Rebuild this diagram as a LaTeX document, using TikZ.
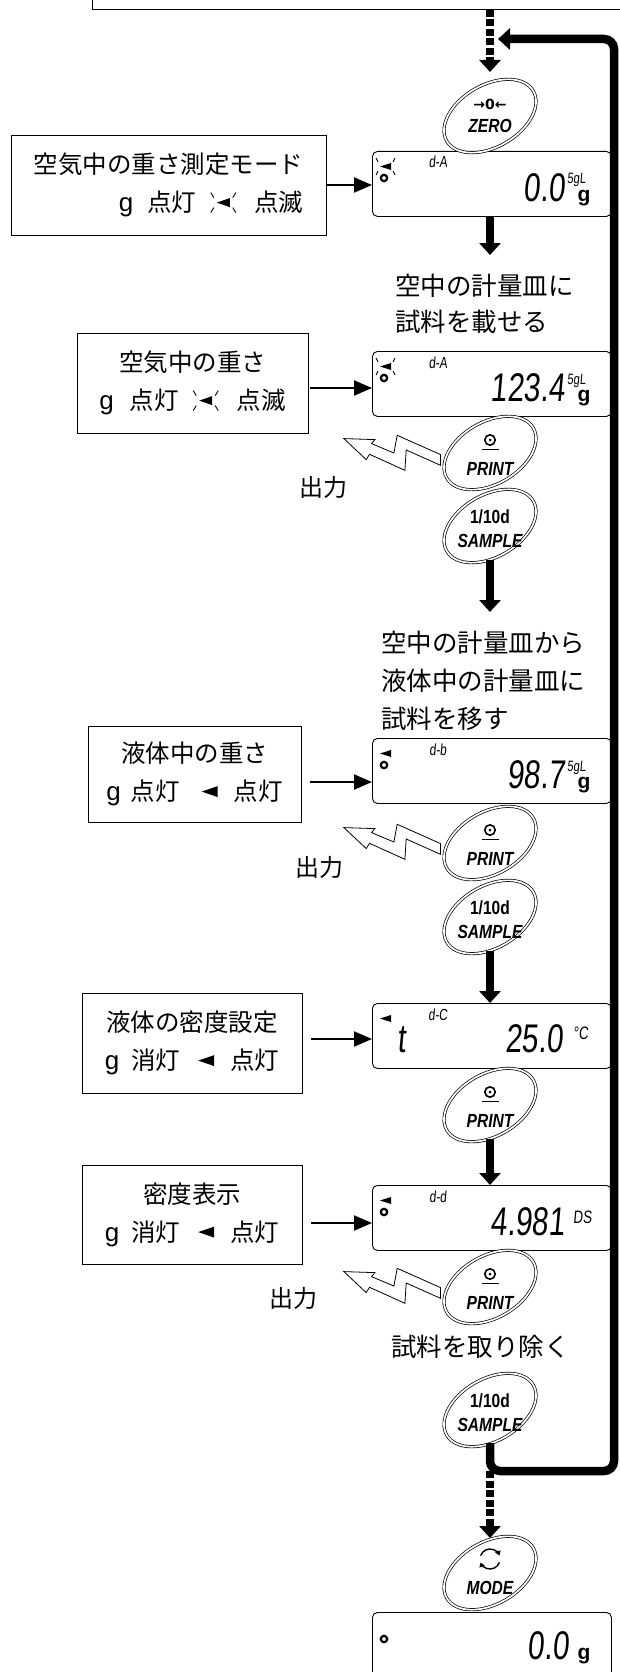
\documentclass[tikz,border=0pt]{standalone}
\usepackage{fontspec}
\usetikzlibrary{arrows.meta,shapes.geometric,calc}
\setmainfont{Noto Sans CJK JP}
\newfontfamily\gfont{Liberation Sans}
\newfontfamily\btnfont[FakeStretch=0.82]{Liberation Sans}
\newfontfamily\lcdfont[FakeStretch=0.74,FakeSlant=0.09]{Liberation Sans}
\newfontfamily\symfont{DejaVu Sans}
\newcommand{\blinktri}{\tikz[baseline={(0pt,-9pt)},x=1pt,y=1pt]{%
  \fill (-6.5,0) -- (6.5,4.5) -- (6.5,-4.5) -- cycle;
  \draw[line width=0.9pt] (-9.5,5) -- (-12.5,10) (-9.5,-5) -- (-12.5,-10)
    (9.5,5) -- (12.5,10) (9.5,-5) -- (12.5,-10);}}
\newcommand{\soltri}{\tikz[baseline={(0pt,-9pt)},x=1pt,y=1pt]{%
  \fill (-8,0) -- (8,5.5) -- (8,-5.5) -- cycle;}}
\newcommand{\gch}{{\gfont\fontsize{26}{26}\selectfont g}}
\tikzset{
  pics/bolt/.style={code={%
    \draw[line width=0.8pt,fill=white,line join=miter]
      (-96.6,-21.4) -- (-65.6,-20.4) -- (-69,-16.4) -- (-46.6,-7) -- (-43.3,-24.7)
      -- (0,-5.4) -- (0,5.3) -- (-34.3,-10) -- (-35.6,10.3) -- (-71,-5.7)
      -- (-74.3,-0.4) -- cycle;}},
  pics/printicon/.style={code={%
    \draw[line width=1.6pt] (0,-13) circle[radius=5.2];
    \fill (0,-13) circle[radius=1.5];
    \draw[line width=1.6pt] (-8.5,-3.5) -- (8.5,-3.5);}},
  pics/modeicon/.style={code={%
    \draw[line width=1.4pt,-{Triangle[length=4.5pt,width=5.5pt]}]
      (0,-14) ++(-160:10) arc[start angle=-160,end angle=-20,radius=10];
    \draw[line width=1.4pt,-{Triangle[length=4.5pt,width=5.5pt]}]
      (0,-14) ++(20:10) arc[start angle=20,end angle=160,radius=10];}},
  pics/lcdtri/.style={code={\fill (8,15.5) -- (19,12) -- (19,19) -- cycle;}},
  pics/lcdrays/.style={code={\draw[line width=0.9pt] (6,11) -- (4,7) (6,20) -- (4,24) (21,11) -- (23,7) (21,20) -- (23,24);}},
  pics/lcdring/.style={code={\draw[line width=2.2pt] (12,27) circle[radius=3.2];}},
}
\begin{document}
\begin{tikzpicture}[x=1pt,y=-1pt,
  jbox/.style={draw,line width=0.9pt,inner sep=0pt,align=center,font=\fontsize{24.5}{38}\selectfont},
  lcdbox/.style={draw,line width=0.9pt,rounded corners=5pt,minimum width=239pt,minimum height=65pt,anchor=north west,inner sep=0pt},
  btnshape/.style={ellipse,draw,double,double distance=1.7pt,line width=0.7pt,minimum width=100pt,minimum height=62pt,inner sep=0pt,rotate=30},
  btnlbl/.style={font=\btnfont\bfseries\itshape\fontsize{19}{19}\selectfont,inner sep=0pt,anchor=base},
  btnnum/.style={font=\btnfont\bfseries\fontsize{19}{19}\selectfont,inner sep=0pt,anchor=base},
  btnsym/.style={font=\symfont\bfseries\fontsize{14}{14}\selectfont,inner sep=0pt,anchor=base},
  tarrow/.style={line width=8.5pt,-{Triangle[length=12pt,width=21pt]}},
  darrow/.style={tarrow,dash pattern=on 7pt off 2.5pt},
  harrow/.style={line width=2pt,-{Triangle[length=18pt,width=15pt]}},
  notetxt/.style={font=\fontsize{25.5}{25.5}\selectfont,inner sep=0pt,anchor=west},
  outtxt/.style={font=\fontsize{24}{24}\selectfont,inner sep=0pt},
  lcdnum/.style={font=\lcdfont\fontsize{40}{40}\selectfont,inner sep=0pt,anchor=base east},
  lcdsm/.style={font=\lcdfont\fontsize{16}{16}\selectfont,inner sep=0pt,anchor=base},
  lcdunit/.style={font=\lcdfont\fontsize{15}{15}\selectfont,inner sep=0pt,anchor=base west},
  lcdunitb/.style={font=\lcdfont\fontsize{18}{18}\selectfont,inner sep=0pt,anchor=base west},
  lcdg/.style={font=\gfont\bfseries\fontsize{21}{21}\selectfont,inner sep=0pt,anchor=base},
]
\useasboundingbox (0,0) rectangle (620,1672);

% helper coordinates
\coordinate (colx) at (490,0);
\coordinate (r1) at (0,185);
\coordinate (r2) at (0,388);
\coordinate (r3) at (0,782);
\coordinate (r4) at (0,1039);
\coordinate (r5) at (0,1223);
\coordinate (a2end) at (490,255);
\coordinate (a3end) at (490,612);
\coordinate (loopbl) at (490,1471);
\coordinate (loopbr) at (614,1471);
\coordinate (looptr) at (614,39);
\coordinate (loopend) at (498,39);

% top box (cut off)
\node[draw,line width=0.9pt,minimum width=620pt,minimum height=60pt,anchor=south west,inner sep=0pt] (topbox) at (92,10) {};

% left boxes
\node[jbox,minimum width=315pt,minimum height=100pt,align=right] (b1) at (168.5,185)
  {空気中の重さ測定モード\\\gch\hspace{14pt}点灯\hspace{14pt}\blinktri\hspace{18pt}点滅};
\node[jbox,minimum width=231pt,minimum height=100pt] (b2) at (192.5,383)
  {空気中の重さ\\\gch\hspace{16pt}点灯\hspace{14pt}\blinktri\hspace{18pt}点滅};
\node[jbox,minimum width=213pt,minimum height=96pt] (b3) at (194.5,774)
  {液体中の重さ\\\gch\hspace{10pt}点灯\hspace{22pt}\soltri\hspace{16pt}点灯};
\node[jbox,minimum width=220pt,minimum height=100pt] (b4) at (192,1043)
  {液体の密度設定\\\gch\hspace{12pt}消灯\hspace{18pt}\soltri\hspace{16pt}点灯};
\node[jbox,minimum width=220pt,minimum height=99pt] (b5) at (192,1214.5)
  {密度表示\\\gch\hspace{12pt}消灯\hspace{18pt}\soltri\hspace{16pt}点灯};

% displays
\node[lcdbox] (d1) at (372,151) {};
\node[lcdbox] (d2) at (372,351) {};
\node[lcdbox] (d3) at (372,738) {};
\node[lcdbox] (d4) at (372,1003) {};
\node[lcdbox] (d5) at (372,1185) {};
\node[lcdbox,minimum height=90pt] (d6) at (372,1612) {};

% display 1
\pic at (d1.north west) {lcdtri}; \pic at (d1.north west) {lcdrays}; \pic at (d1.north west) {lcdring};
\node[lcdsm] (d1lab) at (438,168) {d-A};
\node[lcdnum] (d1num) at (565,201) {0.0};
\node[lcdunit] (d1unit) at (567,184) {5gL};
\node[lcdg] (d1g) at (584,201) {g};
% display 2
\pic at (d2.north west) {lcdtri}; \pic at (d2.north west) {lcdrays}; \pic at (d2.north west) {lcdring};
\node[lcdsm] (d2lab) at (438,368) {d-A};
\node[lcdnum] (d2num) at (565,401) {123.4};
\node[lcdunit] (d2unit) at (567,384) {5gL};
\node[lcdg] (d2g) at (584,401) {g};
% display 3
\pic at (d3.north west) {lcdtri}; \pic at (d3.north west) {lcdring};
\node[lcdsm] (d3lab) at (438,755) {d-b};
\node[lcdnum] (d3num) at (565,788) {98.7};
\node[lcdunit] (d3unit) at (567,771) {5gL};
\node[lcdg] (d3g) at (584,788) {g};
% display 4
\pic at (d4.north west) {lcdtri};
\node[lcdsm] (d4lab) at (438,1020) {d-C};
\node[lcdnum,anchor=base west] (d4t) at (397,1052) {t};
\node[lcdnum] (d4num) at (563,1052) {25.0};
\node[lcdunitb] (d4unit) at (573,1039) {°C};
% display 5
\pic at (d5.north west) {lcdtri}; \pic at (d5.north west) {lcdring};
\node[lcdsm] (d5lab) at (438,1202) {d-d};
\node[lcdnum] (d5num) at (565,1235) {4.981};
\node[lcdunitb] (d5unit) at (573,1223) {DS};
% display 6
\pic at (d6.north west) {lcdring};
\node[lcdnum] (d6num) at (569,1659) {0.0};
\node[lcdg] (d6g) at (584,1659) {g};

% buttons
\node[btnshape] (zero) at (490,116) {};
\node[btnshape] (print1) at (490,453) {};
\node[btnshape] (sample1) at (490,526) {};
\node[btnshape] (print2) at (490,843) {};
\node[btnshape] (sample2) at (490,917) {};
\node[btnshape] (print3) at (490,1105) {};
\node[btnshape] (print4) at (490,1287) {};
\node[btnshape] (sample3) at (490,1410) {};
\node[btnshape] (mode) at (490,1573) {};

% button labels
\node[btnsym] (zerosym) at ($(zero.center)+(0,-6)$) {→0←};
\node[btnlbl] (zerolbl) at ($(zero.center)+(0,17)$) {ZERO};
\foreach \p in {print1,print2,print3,print4}{
  \pic at (\p.center) {printicon};
  \node[btnlbl] (\p lbl) at ($(\p.center)+(0,22)$) {PRINT};
}
\foreach \s in {sample1,sample2,sample3}{
  \node[btnnum] (\s num) at ($(\s.center)+(0,-3)$) {1/10d};
  \node[btnlbl] (\s lbl) at ($(\s.center)+(0,21)$) {SAMPLE};
}
\pic at (mode.center) {modeicon};
\node[btnlbl] (modelbl) at ($(mode.center)+(0,21)$) {MODE};

% output bolts
\pic at ($(print1.center)+(-49.5,7)$) {bolt};
\pic at ($(print2.center)+(-49.5,6)$) {bolt};
\pic at ($(print4.center)+(-49.5,6)$) {bolt};
\node[outtxt] (out1) at (323,487) {出力};
\node[outtxt] (out2) at (319,867) {出力};
\node[outtxt] (out4) at (293,1298) {出力};

% instructions
\node[notetxt] (n1a) at (395,286) {空中の計量皿に};
\node[notetxt] (n1b) at (395,322) {試料を載せる};
\node[notetxt] (n2a) at (381,643) {空中の計量皿から};
\node[notetxt] (n2b) at (381,681) {液体中の計量皿に};
\node[notetxt] (n2c) at (381,719) {試料を移す};
\node[notetxt] (n3) at (391,1347) {試料を取り除く};

% horizontal arrows
\draw[harrow] (b1.east |- r1) -- (d1.west |- r1);
\draw[harrow,shorten <=2pt] (b2.east |- r2) -- (d2.west |- r2);
\draw[harrow,shorten <=9pt] (b3.east |- r3) -- (d3.west |- r3);
\draw[harrow,shorten <=9pt] (b4.east |- r4) -- (d4.west |- r4);
\draw[harrow,shorten <=9pt] (b5.east |- r5) -- (d5.west |- r5);

% vertical flow arrows
\draw[darrow] (topbox.south -| colx) -- ($(zero.center)+(0,-44)$);
\draw[tarrow] (d1.south -| colx) -- (a2end);
\draw[tarrow] ($(sample1.center)+(0,34)$) -- (a3end);
\draw[tarrow] ($(sample2.center)+(0,34)$) -- (d4.north -| colx);
\draw[tarrow] ($(print3.center)+(0,34)$) -- (d5.north -| colx);
\draw[tarrow,rounded corners=10pt] ($(sample3.center)+(0,33)$) -- (loopbl) -- (loopbr) -- (looptr) -- (loopend);
\draw[darrow] (loopbl) -- ($(mode.center)+(0,-35)$);
\end{tikzpicture}
\end{document}
